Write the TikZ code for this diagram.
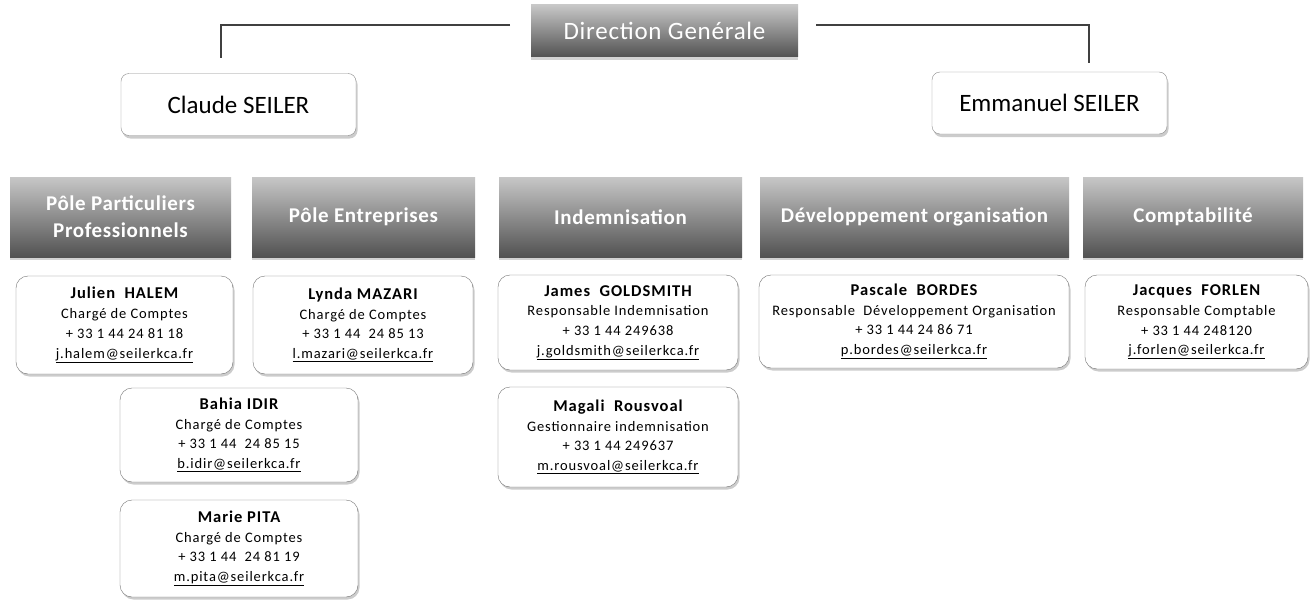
\documentclass[tikz,border=0pt]{standalone}
\usepackage{fontspec}
\setmainfont{Carlito}
\usetikzlibrary{shadows,positioning}
\begin{document}
\begin{tikzpicture}[x=1pt,y=-1pt,
  hdr/.style={rectangle, top color=black!22, bottom color=black!68, draw=none,
    text=white, font=\addfontfeatures{LetterSpace=3}\fontsize{21}{27}\selectfont\bfseries, align=center,
    inner sep=2pt, drop shadow={opacity=0.35, shadow xshift=0pt, shadow yshift=-3pt}},
  boss/.style={rectangle, rounded corners=8pt, draw=black!45, fill=white,
    font=\fontsize{25}{28}\selectfont, align=center,
    drop shadow={opacity=0.4, shadow xshift=1.5pt, shadow yshift=-3pt}},
  person/.style={rectangle, rounded corners=12pt, draw=black!55, fill=white,
    font=\addfontfeatures{LetterSpace=6}\fontsize{14.5}{19.7}\selectfont, align=center,
    drop shadow={opacity=0.4, shadow xshift=1.5pt, shadow yshift=-2.5pt}},
  link/.style={draw=black!75, line width=2.6pt},
]
\useasboundingbox (0,0) rectangle (1312,602);
\fill[white] (0,0) rectangle (1312,602);
\newcommand\pname[1]{{\fontsize{16.5}{19.7}\selectfont\bfseries #1}}
\newcommand\pmail[1]{\underline{#1}}

% top
\node[hdr, minimum width=267pt, minimum height=52pt, font=\addfontfeatures{LetterSpace=3}\fontsize{25}{28}\selectfont] (dg) at (664.5,31) {Direction Genérale};
\node[boss, minimum width=235pt, minimum height=62pt] (cs) at (238.5,104.5) {Claude SEILER};
\node[boss, minimum width=235pt, minimum height=62pt] (es) at (1049.5,103) {Emmanuel SEILER};
\coordinate (cl) at (221,58);
\coordinate (cr) at (1089,63);
\coordinate (dl) at (510,25);
\coordinate (dr) at (816,25);
\draw[link] (dl) -| (cl);
\draw[link] (dr) -| (cr);

% department headers
\node[hdr, minimum width=221pt, minimum height=80pt] (pp) at (120.5,217) {Pôle Particuliers\\Professionnels};
\node[hdr, minimum width=223pt, minimum height=80pt] (pe) at (363.5,217) {Pôle Entreprises};
\node[hdr, minimum width=243pt, minimum height=80pt] (ind) at (620.5,217) {Indemnisation};
\node[hdr, minimum width=309pt, minimum height=80pt] (dev) at (914.5,217) {Développement organisation};
\node[hdr, minimum width=220pt, minimum height=80pt] (cpt) at (1193,217) {Comptabilité};

% people
\node[person, minimum width=217pt, minimum height=98pt] (jh) at (124.5,325)
  {\pname{Julien\ \ HALEM}\\Chargé de Comptes\\+ 33 1 44 24 81 18\\\pmail{j.halem@seilerkca.fr}};
\node[person, minimum width=220pt, minimum height=98pt] (lm) at (363,325)
  {\pname{Lynda MAZARI}\\Chargé de Comptes\\+ 33 1 44\ \ 24 85 13\\\pmail{l.mazari@seilerkca.fr}};
\node[person, minimum width=238pt, minimum height=94pt] (bi) at (239,435)
  {\pname{Bahia IDIR}\\Chargé de Comptes\\+ 33 1 44\ \ 24 85 15\\\pmail{b.idir@seilerkca.fr}};
\node[person, minimum width=238pt, minimum height=97pt] (mp) at (239,548.5)
  {\pname{Marie PITA}\\Chargé de Comptes\\+ 33 1 44\ \ 24 81 19\\\pmail{m.pita@seilerkca.fr}};
\node[person, minimum width=240pt, minimum height=95pt] (jg) at (618,322.5)
  {\pname{James\ \ GOLDSMITH}\\Responsable Indemnisation\\+ 33 1 44 249638\\\pmail{j.goldsmith@seilerkca.fr}};
\node[person, minimum width=240pt, minimum height=100pt] (mr) at (618,437)
  {\pname{Magali\ \ Rousvoal}\\Gestionnaire indemnisation\\+ 33 1 44 249637\\\pmail{m.rousvoal@seilerkca.fr}};
\node[person, minimum width=310pt, minimum height=93pt] (pb) at (914,321.5)
  {\pname{Pascale\ \ BORDES}\\Responsable\ \ Développement Organisation\\+ 33 1 44 24 86 71\\\pmail{p.bordes@seilerkca.fr}};
\node[person, minimum width=223pt, minimum height=94pt] (jf) at (1196.5,322)
  {\pname{Jacques\ \ FORLEN}\\Responsable Comptable\\+ 33 1 44 248120\\\pmail{j.forlen@seilerkca.fr}};
\end{tikzpicture}
\end{document}
